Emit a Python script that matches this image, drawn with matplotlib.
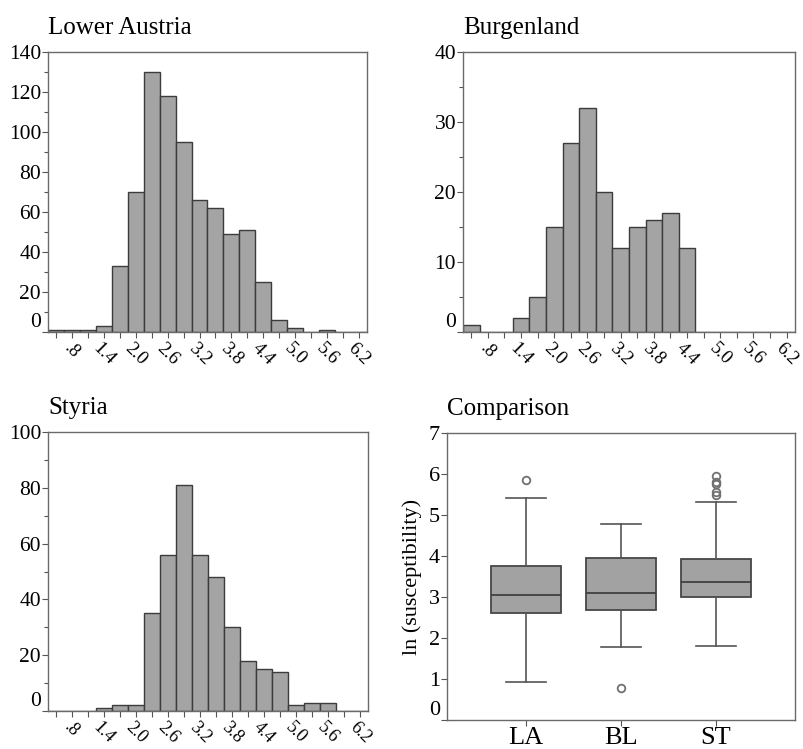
import matplotlib
matplotlib.use("Agg")
import matplotlib.pyplot as plt

plt.rcParams['font.family'] = ['Liberation Serif', 'DejaVu Serif']

# Histogram bins of ln(susceptibility)
bin_centers = [0.5, 0.8, 1.1, 1.4, 1.7, 2.0, 2.3, 2.6, 2.9, 3.2,
               3.5, 3.8, 4.1, 4.4, 4.7, 5.0, 5.3, 5.6, 5.9, 6.2]
bin_width = 0.3
x_label_values = [0.8, 1.4, 2.0, 2.6, 3.2, 3.8, 4.4, 5.0, 5.6, 6.2]
x_label_texts = ['.8', '1.4', '2.0', '2.6', '3.2', '3.8', '4.4', '5.0', '5.6', '6.2']

# Counts per bin for each province
lower_austria = [1, 1, 1, 3, 33, 70, 130, 118, 95, 66, 62, 49, 51, 25, 6, 2, 0, 1, 0, 0]
burgenland = [1, 0, 0, 2, 5, 15, 27, 32, 20, 12, 15, 16, 17, 12, 0, 0, 0, 0, 0, 0]
styria = [0, 0, 0, 1, 2, 2, 35, 56, 81, 56, 48, 30, 18, 15, 14, 2, 3, 3, 0, 0]

# Box plot summary statistics
groups = ['LA', 'BL', 'ST']
medians = [3.04, 3.09, 3.36]
q1s = [2.60, 2.69, 3.00]
q3s = [3.76, 3.96, 3.93]
whisker_lo = [0.92, 1.78, 1.81]
whisker_hi = [5.41, 4.79, 5.31]
outliers = [[5.86], [0.77], [5.95, 5.80, 5.75, 5.55, 5.50]]

W, H = 804, 749
fig = plt.figure(figsize=(W / 100, H / 100), dpi=100)


def px_axes(left, top, right, bottom):
    return fig.add_axes([left / W, 1 - bottom / H, (right - left) / W, (bottom - top) / H])


spine_col = '#6a6a6a'
bar_face = '#a4a4a4'
bar_edge = '#3c3c3c'


def style_frame(ax):
    for s in ax.spines.values():
        s.set_color(spine_col)
        s.set_linewidth(1.0)
    ax.tick_params(direction='out', length=4, width=0.8, color='#555555', pad=1)


def histogram(ax, counts, title, ymax, major, minor, xfont=13.5):
    ax.bar(bin_centers, counts, width=bin_width, color=bar_face,
           edgecolor=bar_edge, linewidth=1.0)
    ax.set_xlim(bin_centers[0] - bin_width / 2, bin_centers[-1] + bin_width / 2)
    ax.set_ylim(0, ymax)
    style_frame(ax)
    labels = []
    for c in bin_centers:
        lab = ''
        for v, t in zip(x_label_values, x_label_texts):
            if abs(v - c) < 1e-6:
                lab = t
        labels.append(lab)
    ax.set_xticks(bin_centers)
    ax.set_xticklabels(labels, rotation=-45, ha='center', fontsize=xfont)
    ax.tick_params(axis='x', pad=1.5)
    yt = list(range(0, ymax + 1, major))
    ax.set_yticks(yt)
    ax.set_yticklabels([str(v) for v in yt], fontsize=15.5)
    ax.set_yticks(list(range(0, ymax + 1, minor)), minor=True)
    ax.tick_params(axis='y', which='minor', length=3, width=0.8, color='#555555')
    ax.get_yticklabels()[0].set_va('bottom')
    ax.set_title(title, loc='left', fontsize=18, pad=13)


ax1 = px_axes(48, 52, 367, 332)
histogram(ax1, lower_austria, 'Lower Austria', 140, 20, 10)

ax2 = px_axes(463, 52, 795, 332)
histogram(ax2, burgenland, 'Burgenland', 40, 10, 5)

ax3 = px_axes(48, 432, 368, 711)
histogram(ax3, styria, 'Styria', 100, 20, 10, xfont=13)

ax4 = px_axes(447, 433, 795, 720)
stats = []
for g, m, a, b, lo, hi, fl in zip(groups, medians, q1s, q3s, whisker_lo, whisker_hi, outliers):
    stats.append(dict(label=g, med=m, q1=a, q3=b, whislo=lo, whishi=hi, fliers=fl))
ax4.bxp(stats, positions=[1, 2, 3], widths=0.74, capwidths=0.42, patch_artist=True,
        boxprops=dict(facecolor='#a2a2a2', edgecolor='#474747', linewidth=1.3),
        medianprops=dict(color='#404040', linewidth=1.3),
        whiskerprops=dict(color='#555555', linewidth=1.2),
        capprops=dict(color='#555555', linewidth=1.2),
        flierprops=dict(marker='o', markerfacecolor='none', markeredgecolor='#707070',
                        markersize=5.5, markeredgewidth=1.3))
ax4.set_xlim(0.17, 3.83)
ax4.set_ylim(0, 7)
style_frame(ax4)
ax4.set_xticks([1, 2, 3])
ax4.set_xticklabels(groups, fontsize=19)
ax4.set_yticks(list(range(0, 8)))
ax4.set_yticklabels([str(v) for v in range(0, 8)], fontsize=16)
ax4.get_yticklabels()[0].set_va('bottom')
ax4.set_ylabel('ln (susceptibility)', fontsize=16, labelpad=5)
ax4.set_title('Comparison', loc='left', fontsize=18, pad=13)

fig.savefig('out.png', dpi=100)
